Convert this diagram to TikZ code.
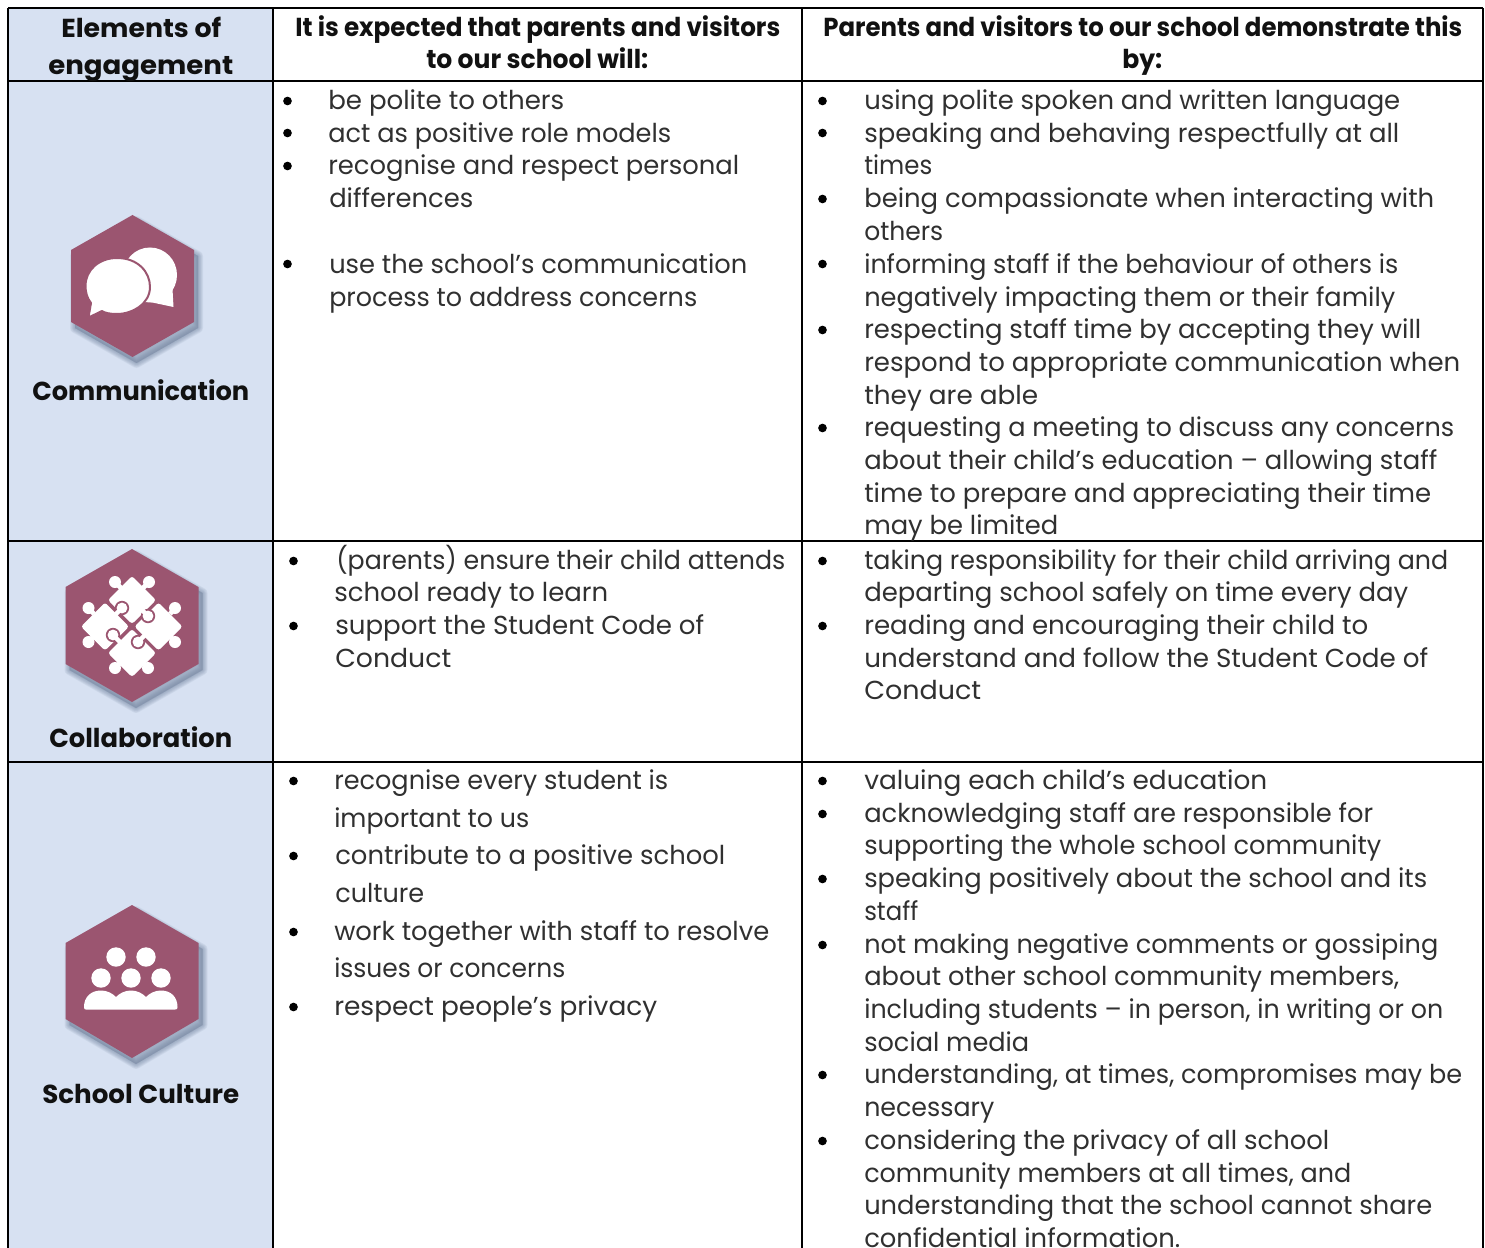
\documentclass[tikz,border=0pt]{standalone}
\usepackage{fontspec}
\usepackage{graphicx}
\setmainfont{Poppins}
\definecolor{cellblue}{HTML}{D7E1F2}
\definecolor{hexrose}{HTML}{9B5570}
\definecolor{shadowblue}{HTML}{7485A0}
\definecolor{inkblack}{HTML}{111111}
\definecolor{bodyink}{HTML}{303030}
\newcounter{tlc}
\newsavebox\tlbox
\newcommand\fitted[3]{%
  \setbox\tlbox=\hbox{#3}%
  \pgfmathsetmacro\tlratio{(#2-#1)*0.75/\the\wd\tlbox}%
  \scalebox{\tlratio}[1]{\usebox\tlbox}%
}
\newcommand\tline[4]{%
  \stepcounter{tlc}%
  \node[anchor=base west,inner sep=0pt] (t\arabic{tlc}) at (#1-1,#3+9)
    {\fitted{#1}{#2+1}{\fontsize{19.5pt}{24pt}\selectfont\color{bodyink}#4}};%
}
\newcommand\bline[4]{%
  \stepcounter{tlc}%
  \node[anchor=base west,inner sep=0pt] (t\arabic{tlc}) at (#1,#3)
    {\fitted{#1}{#2}{\fontsize{19.5pt}{24pt}\selectfont\bfseries\color{inkblack}#4}};%
}
\newcommand\bul[2]{%
  \stepcounter{tlc}%
  \node[bulletdot] (b\arabic{tlc}) at (#1-0.5,#2) {};%
}
% cx, top y, half width, upper y, lower y, bottom y
\newcommand\hexpath[6]{(#1,#2) -- (#1+#3,#4) -- (#1+#3,#5) -- (#1,#6) -- (#1-#3,#5) -- (#1-#3,#4) -- cycle}
\newcommand\hexicon[6]{%
  \foreach \w in {10,8.5,7,5.5,4,2.5,1}{%
    \begin{scope}[shift={(4,6)}]
      \draw[shadowblue,fill=shadowblue,line join=round,line width=\w*0.75pt,opacity=0.1] \hexpath{#1}{#2}{#3}{#4}{#5}{#6};
    \end{scope}
  }%
  \fill[hexrose] \hexpath{#1}{#2}{#3}{#4}{#5}{#6};%
}
\newcommand\puzzlepiece[3]{%
  \fill[white,rounded corners=2pt] (#1,#2-#3) -- (#1+#3,#2) -- (#1,#2+#3) -- (#1-#3,#2) -- cycle;%
}
% tab of one jigsaw piece: x, y, direction towards the piece it belongs to
\newcommand\locktab[4]{%
  \fill[hexrose] (#1,#2) circle[radius=7.2];%
  \fill[white] (#1,#2) circle[radius=5.4];%
  \draw[white,line width=3.4pt] (#1,#2) -- (#1+#3,#2+#4);%
}
\tikzset{
  gridline/.style={black,line width=1.5pt},
  bulletdot/.style={circle,fill=black,inner sep=0pt,minimum size=6.5pt},
}
\begin{document}
\begin{tikzpicture}[x=0.75pt,y=-0.75pt]
\useasboundingbox (0,0) rectangle (1485,1248);
\fill[white] (0,0) rectangle (1485,1248);
\fill[cellblue] (8,8) rectangle (273,1248);
% grid
\coordinate (tl) at (8,8); \coordinate (tr) at (1483,8);
\coordinate (bl) at (8,1248); \coordinate (br) at (1483,1248);
\draw[gridline] (tl) -- (tr);
\draw[gridline] (tl) -- (bl);
\draw[gridline] (tr) -- (br);
\draw[gridline] (273,8) -- (273,1248);
\draw[gridline] (802,8) -- (802,1248);
\draw[gridline] (8,81.5) -- (1483,81.5);
\draw[gridline] (8,541) -- (1483,541);
\draw[gridline] (8,762) -- (1483,762);
% headers
\bline{61}{221}{38}{Elements of}
\bline{48}{233}{74.5}{engagement}
\bline{295}{780}{37}{It is expected that parents and visitors}
\bline{426}{648}{69}{to our school will:}
\bline{823}{1462}{37}{Parents and visitors to our school demonstrate this}
\bline{1122}{1162}{69}{by:}
% left labels
\bline{32}{249}{400}{Communication}
\bline{49}{232}{747}{Collaboration}
\bline{42}{239}{1103}{School Culture}
% row 1 col 2
\bul{288}{101}\bul{288}{133}\bul{288}{166}\bul{288}{264}
\tline{329}{564}{101}{be polite to others}
\tline{329}{671}{134}{act as positive role models}
\tline{329}{739}{166}{recognise and respect personal}
\tline{330}{473}{199}{differences}
\tline{330}{747}{265}{use the school’s communication}
\tline{330}{697}{297}{process to address concerns}
% row 1 col 3
\bul{823}{101}\bul{823}{133}\bul{823}{199}\bul{823}{264}\bul{823}{330}\bul{823}{428}
\tline{865}{1400}{101}{using polite spoken and written language}
\tline{865}{1399}{134}{speaking and behaving respectfully at all}
\tline{865}{932}{166}{times}
\tline{865}{1434}{199}{being compassionate when interacting with}
\tline{865}{943}{232}{others}
\tline{865}{1398}{265}{informing staff if the behaviour of others is}
\tline{865}{1395}{297}{negatively impacting them or their family}
\tline{865}{1421}{330}{respecting staff time by accepting they will}
\tline{865}{1460}{362}{respond to appropriate communication when}
\tline{865}{1038}{395}{they are able}
\tline{865}{1454}{427}{requesting a meeting to discuss any concerns}
\tline{865}{1437}{460}{about their child’s education – allowing staff}
\tline{865}{1431}{493}{time to prepare and appreciating their time}
\tline{865}{1058}{525}{may be limited}
% row 2 col 2
\bul{294}{561}\bul{294}{626}
\tline{337}{785}{560}{(parents) ensure their child attends}
\tline{335}{608}{592}{school ready to learn}
\tline{336}{704}{625}{support the Student Code of}
\tline{336}{451}{658}{Conduct}
% row 2 col 3
\bul{823}{561}\bul{823}{626}
\tline{865}{1448}{560}{taking responsibility for their child arriving and}
\tline{865}{1408}{592}{departing school safely on time every day}
\tline{865}{1368}{625}{reading and encouraging their child to}
\tline{865}{1428}{658}{understand and follow the Student Code of}
\tline{865}{981}{690}{Conduct}
% row 3 col 2
\bul{294}{781}\bul{294}{856}\bul{294}{932}\bul{294}{1007}
\tline{335}{668}{780}{recognise every student is}
\tline{335}{529}{818}{important to us}
\tline{336}{725}{855}{contribute to a positive school}
\tline{336}{424}{893}{culture}
\tline{335}{769}{931}{work together with staff to resolve}
\tline{335}{565}{968}{issues or concerns}
\tline{335}{657}{1006}{respect people’s privacy}
% row 3 col 3
\bul{823}{781}\bul{823}{814}\bul{823}{879}\bul{823}{945}\bul{823}{1075}\bul{823}{1141}
\tline{865}{1267}{780}{valuing each child’s education}
\tline{865}{1373}{813}{acknowledging staff are responsible for}
\tline{865}{1381}{845}{supporting the whole school community}
\tline{865}{1427}{878}{speaking positively about the school and its}
\tline{865}{918}{911}{staff}
\tline{865}{1438}{944}{not making negative comments or gossiping}
\tline{865}{1399}{976}{about other school community members,}
\tline{865}{1443}{1009}{including students – in person, in writing or on}
\tline{865}{1029}{1042}{social media}
\tline{865}{1462}{1074}{understanding, at times, compromises may be}
\tline{865}{994}{1107}{necessary}
\tline{865}{1329}{1140}{considering the privacy of all school}
\tline{865}{1351}{1173}{community members at all times, and}
\tline{865}{1432}{1205}{understanding that the school cannot share}
\tline{865}{1180}{1238}{confidential information.}
% ---- Communication icon
\hexicon{132.5}{215}{61.5}{250}{322}{357}
\fill[white] (150,275) ellipse[x radius=27,y radius=27.5];
\fill[white] (160,295) -- (172,280) -- (173.5,307) -- (150,302) -- cycle;
\draw[hexrose,fill=white,line width=1.5pt,line join=round]
  (91,303) .. controls (87,298) and (85.5,292) .. (85.5,286)
  .. controls (85.5,270) and (99,258) .. (117,258)
  .. controls (138,258) and (150,272) .. (150,287)
  .. controls (150,304) and (132,314) .. (117,314)
  .. controls (110,314) and (105,313) .. (102,311)
  -- (88.5,317.5) -- cycle;
% ---- Collaboration icon
\hexicon{132}{549}{66.5}{587}{664}{702}
\puzzlepiece{132}{600}{24}
\puzzlepiece{105}{626.5}{24}
\puzzlepiece{158.5}{626.5}{24}
\puzzlepiece{132}{653}{24}
\fill[white] (115,582) circle[radius=6] (149,582) circle[radius=6]
  (88.5,608) circle[radius=6] (88.5,642) circle[radius=6]
  (175,608) circle[radius=6] (175,642) circle[radius=6]
  (115,668) circle[radius=6] (148,668) circle[radius=6];
\draw[white,line width=3.5pt] (115,582) -- (121,588) (149,582) -- (143,588)
  (88.5,608) -- (94,614) (88.5,642) -- (94,636) (175,608) -- (170,614) (175,642) -- (170,636)
  (115,668) -- (121,662) (148,668) -- (142,662);
\locktab{122}{608}{-7}{7}
\locktab{148}{616}{-7}{-7}
\locktab{138}{642}{7}{-7}
\locktab{113}{635}{7}{7}
% ---- School Culture icon
\hexicon{132}{905}{66.5}{943}{1019}{1058}
\fill[white] (116,957) circle[radius=9.7] (146,957) circle[radius=9.7]
  (101,978) circle[radius=9.7] (131,978) circle[radius=9.7] (161,978) circle[radius=9.7];
\fill[white] (84,1007) .. controls (84,997) and (91,990.5) .. (101,990.5)
  .. controls (107,990.5) and (112,993) .. (116,997)
  .. controls (120,993) and (125,990.5) .. (131,990.5)
  .. controls (137,990.5) and (142,993) .. (146,997)
  .. controls (150,993) and (155,990.5) .. (161,990.5)
  .. controls (171,990.5) and (177.5,997) .. (177.5,1007)
  .. controls (177.5,1009) and (177,1009.5) .. (175,1009.5)
  -- (86,1009.5) .. controls (84.5,1009.5) and (84,1009) .. (84,1007) -- cycle;
\end{tikzpicture}
\end{document}
